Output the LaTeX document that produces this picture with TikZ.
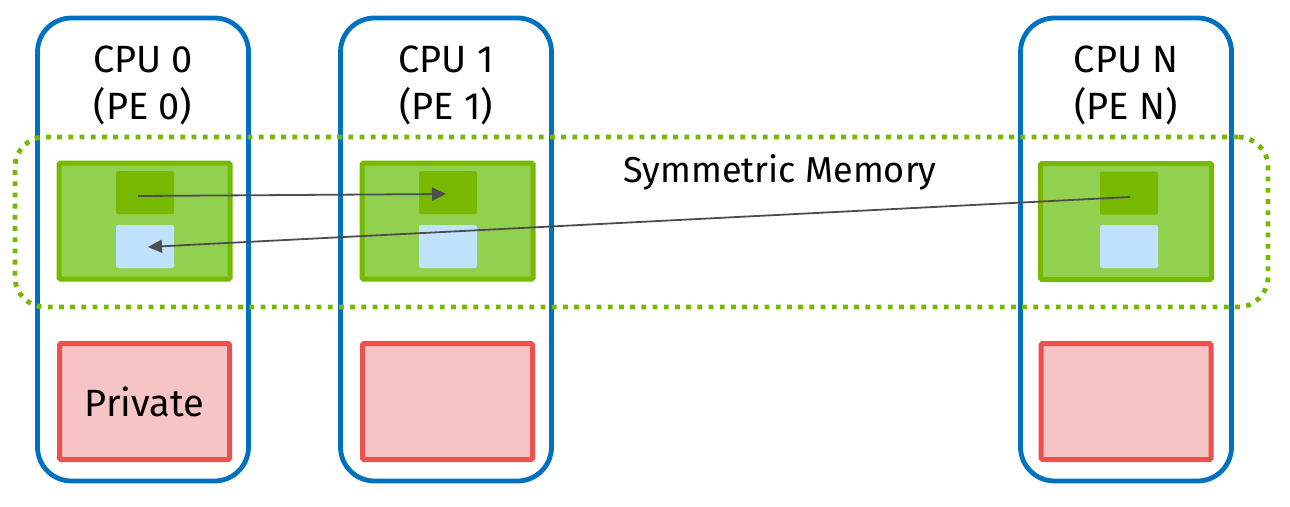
\documentclass[tikz,border=0pt]{standalone}
\usepackage{fontspec}
\setmainfont{Fira Sans}
\usetikzlibrary{arrows.meta}
\definecolor{cpublue}{HTML}{0070C0}
\definecolor{nvgreen}{HTML}{76B900}
\definecolor{lightgreen}{HTML}{92D050}
\definecolor{lightblue}{HTML}{C0E2FF}
\definecolor{privred}{HTML}{EE5050}
\definecolor{privfill}{HTML}{F6C4C4}
\definecolor{arrowgray}{HTML}{4D4D4D}
\tikzset{
  cpubox/.style={draw=cpublue, line width=4.8pt, rounded corners=34pt, minimum width=211pt, minimum height=463pt, inner sep=0pt},
  cpulabel/.style={font=\fontsize{38}{47}\selectfont, align=center, inner sep=0pt},
  heapbox/.style={draw=nvgreen, fill=lightgreen, line width=5pt, rounded corners=1.5pt, minimum width=171pt, minimum height=116pt, inner sep=0pt},
  darksq/.style={fill=nvgreen, rounded corners=2pt, minimum width=58pt, minimum height=43pt, inner sep=0pt},
  lightsq/.style={fill=lightblue, rounded corners=2pt, minimum width=58pt, minimum height=43pt, inner sep=0pt},
  privbox/.style={draw=privred, fill=privfill, line width=5pt, rounded corners=1.5pt, minimum width=170pt, minimum height=116pt, inner sep=0pt, font=\fontsize{38}{45}\selectfont},
  symmbox/.style={draw=nvgreen, line width=4.8pt, dash pattern=on 4.8pt off 6.4pt, rounded corners=30pt, minimum width=1253pt, minimum height=170pt, inner sep=0pt},
  conn/.style={draw=arrowgray, line width=1.8pt, -{Triangle[length=14pt,width=13pt]}}
}
\begin{document}
\begin{tikzpicture}[x=1pt,y=-1pt]
\useasboundingbox[fill=white] (0,0) rectangle (1290,506);
% CPU boxes
\node[cpubox] (cpu0) at (143,249.5) {};
\node[cpubox] (cpu1) at (446,249.5) {};
\node[cpubox] (cpuN) at (1126,249.5) {};
% labels
\node[cpulabel, anchor=base] (lab0) at (143,119) {CPU 0\\(PE 0)};
\node[cpulabel, anchor=base] (lab1) at (446,119) {CPU 1\\(PE 1)};
\node[cpulabel, anchor=base] (labN) at (1126,119) {CPU N\\(PE N)};
% symmetric memory region
\node[symmbox] (symm) at (641.5,222) {};
\node[font=\fontsize{36}{43}\selectfont, anchor=base, inner sep=0pt] (symmlab) at (780,182) {Symmetric Memory};
% heaps
\node[heapbox] (h0) at (144.5,221) {};
\node[heapbox] (h1) at (447.5,221) {};
\node[heapbox] (hN) at (1126,221.5) {};
\node[darksq] (d0) at (145,192.5) {};
\node[lightsq] (l0) at (145,246.5) {};
\node[darksq] (d1) at (448,192.5) {};
\node[lightsq] (l1) at (448,246.5) {};
\node[darksq] (dN) at (1129,193) {};
\node[lightsq] (lN) at (1129,246.5) {};
% private
\node[privbox] (p0) at (144.5,401.5) {Private};
\node[privbox] (p1) at (447.5,401.5) {};
\node[privbox] (pN) at (1126,401.5) {};
% connectors
\draw[conn] ([xshift=-7pt,yshift=-3.5pt]d0.center) -- ([xshift=-2pt,yshift=-1.5pt]d1.center);
\draw[conn] ([xshift=1pt,yshift=-4pt]dN.center) -- ([xshift=3pt,yshift=-0.5pt]l0.center);
\end{tikzpicture}
\end{document}
